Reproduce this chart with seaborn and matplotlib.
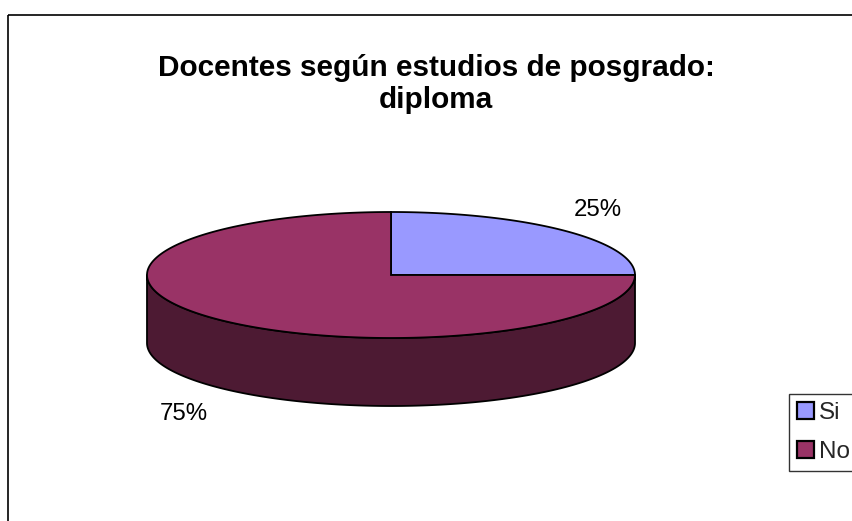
import numpy as np
import matplotlib
matplotlib.use("Agg")
import matplotlib.pyplot as plt
import seaborn as sns
from matplotlib.patches import Polygon, Rectangle, Patch

# ---- data ----
categories = ["Si", "No"]
values = [25, 75]
top_colors = ["#9999FF", "#993366"]
side_colors = ["#4D4D80", "#4D1A33"]
title = "Docentes según estudios de posgrado:\ndiploma"

sns.set_theme(style="white")
plt.rcParams["font.family"] = ["Liberation Sans", "DejaVu Sans"]

W, H = 853, 521
fig = plt.figure(figsize=(W / 100, H / 100), dpi=100)
ax = fig.add_axes([0, 0, 1, 1])
ax.set_xlim(0, W)
ax.set_ylim(H, 0)
ax.axis("off")

# chart area frame (extends past the canvas)
ax.add_patch(Rectangle((8, 15), 1000, 1000, fill=False, edgecolor="black", lw=1.2))

# pie geometry (pixels)
cx, cy, rx, ry, depth = 391, 275, 244, 63, 68

def pt(t, dy=0.0):
    return cx + rx * np.cos(t), cy - ry * np.sin(t) + dy

total = float(sum(values))
fracs = np.array(values) / total
bounds = np.concatenate([[0], np.cumsum(fracs)]) * 2 * np.pi

# side walls (front half only, angles pi..2pi)
for i in range(len(values)):
    a0, a1 = max(bounds[i], np.pi), min(bounds[i + 1], 2 * np.pi)
    if a1 <= a0:
        continue
    t = np.linspace(a0, a1, 200)
    xs, ys = pt(t)
    xb, yb = pt(t[::-1], depth)
    poly = np.column_stack([np.concatenate([xs, xb]), np.concatenate([ys, yb])])
    ax.add_patch(Polygon(poly, closed=True, facecolor=side_colors[i],
                         edgecolor="black", lw=1.3, joinstyle="round"))

# top faces
for i in range(len(values)):
    t = np.linspace(bounds[i], bounds[i + 1], 300)
    xs, ys = pt(t)
    poly = np.column_stack([np.concatenate([[cx], xs]), np.concatenate([[cy], ys])])
    ax.add_patch(Polygon(poly, closed=True, facecolor=top_colors[i],
                         edgecolor="black", lw=1.3, joinstyle="miter"))

# percentage labels
for i in range(len(values)):
    mid = (bounds[i] + bounds[i + 1]) / 2
    lx = cx + rx * 1.2 * np.cos(mid)
    ly = cy - ry * 1.46 * np.sin(mid)
    if np.sin(mid) < 0:
        ly += depth + 6
    ax.text(lx, ly, f"{fracs[i]*100:.0f}%", fontsize=17.3, ha="center", va="center",
            color="black")

# title
ax.text(436, 84, title, fontsize=21.4, fontweight="bold", ha="center", va="center",
        linespacing=1.22, color="black")

# legend
handles = [Patch(facecolor=c, edgecolor="black", lw=1.6) for c in top_colors]
leg = fig.legend(handles, categories, loc="upper left",
                 bbox_to_anchor=(789 / W, 1 - 394 / H),
                 fontsize=17.5, frameon=True, fancybox=False,
                 handlelength=0.7, handleheight=0.7, handletextpad=0.2,
                 labelspacing=0.72, borderpad=0.32, borderaxespad=0)
leg.get_frame().set_edgecolor("black")
leg.get_frame().set_linewidth(1.0)

fig.savefig("out.png", dpi=100)
